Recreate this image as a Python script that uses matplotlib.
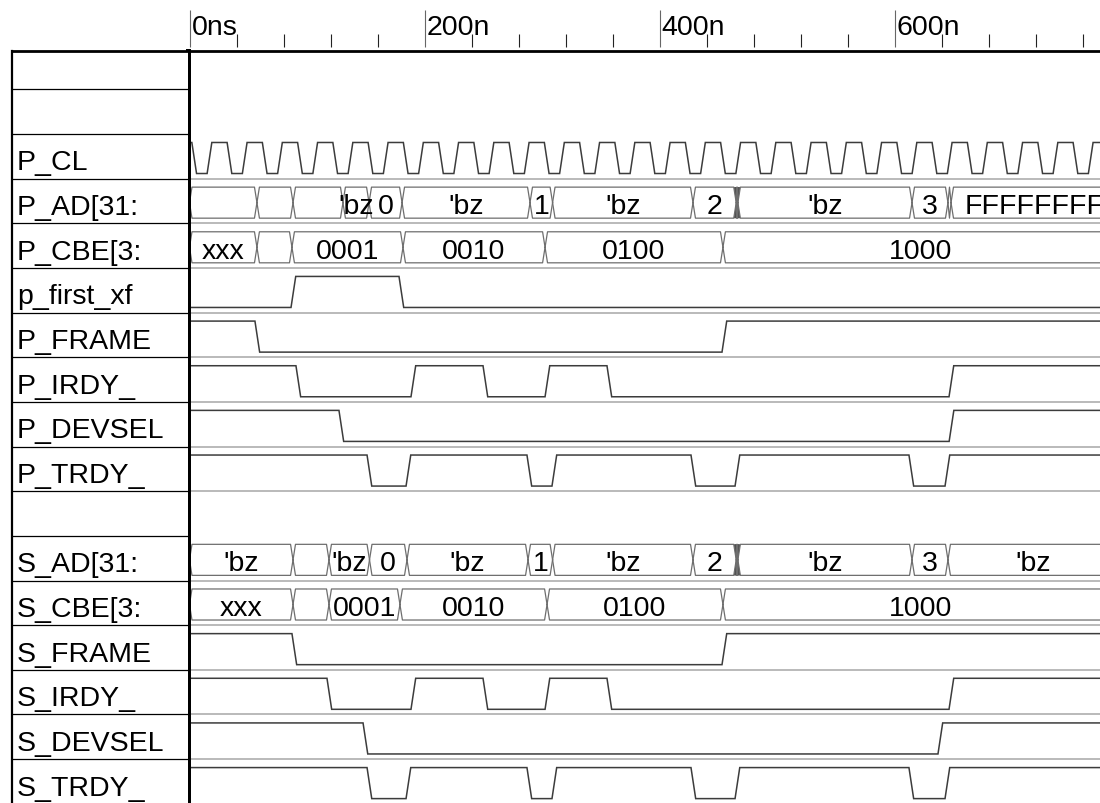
import matplotlib.pyplot as plt
from matplotlib.ticker import FixedLocator, MultipleLocator

plt.rcParams['font.family'] = ['Liberation Sans', 'DejaVu Sans']

# --- waveform data (times in ns) ---
row_labels = ["", "", "P_CL", "P_AD[31:", "P_CBE[3:", "p_first_xf", "P_FRAME",
              "P_IRDY_", "P_DEVSEL", "P_TRDY_", "", "S_AD[31:", "S_CBE[3:",
              "S_FRAME", "S_IRDY_", "S_DEVSEL", "S_TRDY_"]

tick_times = [0, 200, 400, 600]
tick_texts = ["0ns", "200n", "400n", "600n"]

# clock edges (starts high)
clk_edges = [2, 15, 32, 45, 62, 75, 92, 105, 122, 135, 152, 165, 182, 195,
             212, 225, 242, 255, 272, 285, 302, 315, 332, 345, 362, 375, 392,
             405, 422, 435, 452, 465, 482, 495, 512, 525, 542, 555, 572, 585,
             602, 615, 632, 645, 662, 675, 692, 705, 722, 735, 752, 765, 782]

p_ad_times = [57.4, 88.1, 130.6, 152.8, 180.9, 289.8, 309.0, 428.5,
              465.3, 466.0, 466.7, 614.9, 645.5, 648.1]
p_ad_values = ["", "", "", "'bz", "0", "'bz", "1", "'bz", "2", "", "",
               "'bz", "3", "", "FFFFFFFF"]

p_cbe_times = [57.4, 87.2, 181.7, 302.6, 454.0]
p_cbe_values = ["xxx", "", "0001", "0010", "0100", "1000"]

p_first_xf_edges = [86.4, 178.3]
p_frame_edges = [55.7, 453.2]
p_irdy_edges = [90.6, 188.5, 249.8, 302.6, 355.3, 646.4]
p_devsel_edges = [127.2, 646.5]
p_trdy_edges = [151.1, 184.3, 287.2, 308.5, 426.8, 464.3, 612.3, 643.0]

s_ad_times = [88.1, 118.7, 153.2, 185.1, 288.1, 309.0, 428.5,
              465.3, 466.0, 466.7, 614.9, 645.5]
s_ad_values = ["'bz", "", "'bz", "0", "'bz", "1", "'bz", "2", "", "",
               "'bz", "3", "'bz"]

s_cbe_times = [88.1, 118.7, 179.1, 304.3, 454.0]
s_cbe_values = ["xxx", "", "0001", "0010", "0100", "1000"]

s_frame_edges = [87.2, 453.2]
s_irdy_edges = [117.0, 188.5, 249.8, 302.6, 355.3, 646.4]
s_devsel_edges = [147.7, 637.0]
s_trdy_edges = [151.1, 184.3, 287.2, 308.5, 426.8, 464.3, 612.3, 643.0]

# --- layout (pixels of the 1100x804 picture) ---
FIG_W, FIG_H = 1100, 804
PX_PER_NS = 1.175
T0_PX = 189.5
ROW0_TOP = 45.7
ROW_H = 44.65
WAVE_LEFT = 188
TABLE_TOP = 52
LABEL_LEFT = 12
SIM_END = 790

HI, LO = 0.19, 0.885
TEXT_BASE = 0.775
SLOPE = 4.0
BUS_H = 2.1
FS = 20.5
SIG_COLOR = '#3c3c3c'
BUS_COLOR = '#6e6e6e'


def px_to_ns(px):
    return (px - T0_PX) / PX_PER_NS


def px_to_row(py):
    return (py - ROW0_TOP) / ROW_H


def draw_bit(ax, row, edges, level=1):
    def lvl(v):
        return row + (HI if v else LO)
    xs, ys = [0], [lvl(level)]
    for t in edges:
        xs += [t, t + SLOPE]
        ys += [lvl(level), lvl(1 - level)]
        level = 1 - level
    xs.append(SIM_END)
    ys.append(lvl(level))
    ax.plot(xs, ys, color=SIG_COLOR, lw=1.1, solid_joinstyle='miter')


def draw_bus(ax, row, times, values):
    bounds = [0] + times + [SIM_END]
    top, bot = row + HI, row + LO
    mid = (top + bot) / 2
    for i, val in enumerate(values):
        a, b = bounds[i], bounds[i + 1]
        h = min(BUS_H, (b - a) / 2)
        xs = [a, a + h, b - h, b, b - h, a + h, a]
        ys = [mid, top, top, mid, bot, bot, mid]
        ax.plot(xs, ys, color=BUS_COLOR, lw=0.9)
        if b - a < 1.0:
            ax.fill([a - BUS_H, b + BUS_H, b, b + BUS_H, a - BUS_H, a],
                    [top, top, mid, bot, bot, mid], color='#505050', lw=0)
        if val:
            ax.text((a + b) / 2, row + TEXT_BASE, val, ha='center',
                    va='baseline', fontsize=FS, clip_on=True)


fig = plt.figure(figsize=(FIG_W / 100, FIG_H / 100), dpi=100)

# waveform area
ax_w = fig.add_axes([WAVE_LEFT / FIG_W, 0, 1 - WAVE_LEFT / FIG_W,
                     1 - TABLE_TOP / FIG_H])
ax_w.set_xlim(px_to_ns(WAVE_LEFT), px_to_ns(FIG_W))
ax_w.set_ylim(px_to_row(FIG_H), px_to_row(TABLE_TOP))
ax_w.set_xticks([])
ax_w.set_yticks([])
for side in ['right', 'bottom']:
    ax_w.spines[side].set_visible(False)
ax_w.spines['left'].set_linewidth(3.6)
ax_w.spines['top'].set_linewidth(2.0)

row = {name: i for i, name in enumerate(row_labels) if name}

draw_bit(ax_w, row["P_CL"], clk_edges, 1)
draw_bus(ax_w, row["P_AD[31:"], p_ad_times, p_ad_values)
draw_bus(ax_w, row["P_CBE[3:"], p_cbe_times, p_cbe_values)
draw_bit(ax_w, row["p_first_xf"], p_first_xf_edges, 0)
draw_bit(ax_w, row["P_FRAME"], p_frame_edges, 1)
draw_bit(ax_w, row["P_IRDY_"], p_irdy_edges, 1)
draw_bit(ax_w, row["P_DEVSEL"], p_devsel_edges, 1)
draw_bit(ax_w, row["P_TRDY_"], p_trdy_edges, 1)
draw_bus(ax_w, row["S_AD[31:"], s_ad_times, s_ad_values)
draw_bus(ax_w, row["S_CBE[3:"], s_cbe_times, s_cbe_values)
draw_bit(ax_w, row["S_FRAME"], s_frame_edges, 1)
draw_bit(ax_w, row["S_IRDY_"], s_irdy_edges, 1)
draw_bit(ax_w, row["S_DEVSEL"], s_devsel_edges, 1)
draw_bit(ax_w, row["S_TRDY_"], s_trdy_edges, 1)

# row separators under each signal
for name, k in row.items():
    ax_w.axhline(k + 1, color='#b4b4b4', lw=1.3, zorder=0)

# signal name panel
ax_l = fig.add_axes([LABEL_LEFT / FIG_W, 0, (WAVE_LEFT - LABEL_LEFT) / FIG_W,
                     1 - TABLE_TOP / FIG_H])
ax_l.set_xlim(0, 1)
ax_l.set_ylim(px_to_row(FIG_H), px_to_row(TABLE_TOP))
ax_l.set_xticks([])
ax_l.set_yticks([])
for side in ['right', 'bottom']:
    ax_l.spines[side].set_visible(False)
ax_l.spines['left'].set_linewidth(1.6)
ax_l.spines['top'].set_linewidth(2.0)
for k in range(1, len(row_labels)):
    ax_l.axhline(k, color='black', lw=0.9)
for k, name in enumerate(row_labels):
    if name:
        ax_l.text(0.027, k + TEXT_BASE + 0.02, name, ha='left', va='baseline',
                  fontsize=FS, clip_on=True)

# time ruler
ax_h = fig.add_axes([WAVE_LEFT / FIG_W, 1 - 48 / FIG_H, 1 - WAVE_LEFT / FIG_W,
                     48 / FIG_H])
ax_h.set_xlim(px_to_ns(WAVE_LEFT), px_to_ns(FIG_W))
ax_h.set_ylim(0, 1)
for side in ax_h.spines:
    ax_h.spines[side].set_visible(False)
ax_h.set_yticks([])
ax_h.xaxis.set_major_locator(FixedLocator(tick_times))
ax_h.xaxis.set_minor_locator(MultipleLocator(40))
ax_h.tick_params(axis='x', which='major', direction='in', length=26.6,
                 width=0.8, color='#666666', labelbottom=False)
ax_h.tick_params(axis='x', which='minor', direction='in', length=9.4,
                 width=0.8, color='#222222')
for t, s in zip(tick_times, tick_texts):
    ax_h.annotate(s, xy=(t, 13 / 48), xycoords=('data', 'axes fraction'),
                  xytext=(2, 0), textcoords='offset pixels', ha='left',
                  va='baseline', fontsize=FS)

fig.savefig("out.png", dpi=100)
